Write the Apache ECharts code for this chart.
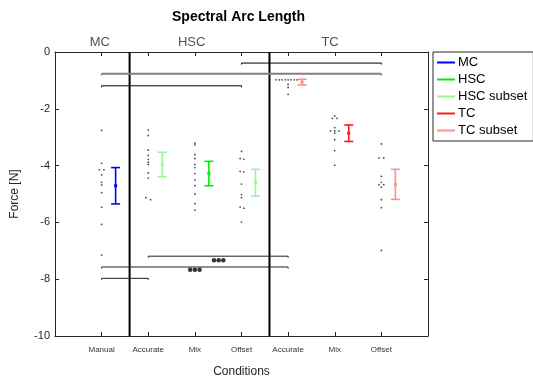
<!DOCTYPE html>
<html><head><meta charset="utf-8">
<script src="https://cdn.jsdelivr.net/npm/echarts@6/dist/echarts.min.js"></script>
<style>html,body{margin:0;padding:0;background:#fff}#c{width:533px;height:383px}</style>
</head><body><div id="c"></div>
<script>
// ---- data ----
const categories = ['Manual','Accurate','Mix','Offset','Accurate','Mix','Offset'];
const groupNames = ['MC','HSC','TC'];
const groupPos = [0.96, 2.93, 5.9];
const separators = [1.6, 4.6];

// individual participant values [x (with jitter), value]
const dotsMC = [[1,-2.76],[1,-3.92],[0.95,-4.15],[1.05,-4.15],[1,-4.33],[1,-4.59],[1,-4.68],[1,-4.95],[1,-5.47],[1,-6.07],[1,-7.15]];
const dotsHSCsubAcc = [[2,-2.75],[2,-2.94],[2,-3.45],[2,-3.64],[2,-3.78],[2,-3.88],[2,-3.96],[2,-4.26],[2,-4.44],[1.95,-5.13],[2.05,-5.2]];
const dotsHSCMix = [[3,-3.21],[3,-3.27],[3,-3.61],[3,-3.75],[3,-3.96],[3,-4.07],[3,-4.28],[3,-4.5],[3,-4.71],[3,-5.0],[3,-5.34],[3,-5.57]];
const dotsHSCsubOff = [[4,-3.5],[3.97,-3.75],[4.05,-3.78],[3.97,-4.2],[4.05,-4.22],[4,-4.65],[4,-5.02],[4,-5.13],[3.97,-5.46],[4.05,-5.5],[4,-5.99]];
const dotsTCsubAcc = [[4.74,-0.98],[4.81,-0.98],[4.87,-0.98],[4.94,-0.98],[5,-0.98],[5.06,-0.98],[5.13,-0.98],[5.19,-0.98],[5,-1.14],[5,-1.25],[5,-1.49]];
const dotsTCMix = [[6,-2.25],[5.95,-2.34],[6.05,-2.34],[6,-2.66],[5.91,-2.78],[6,-2.78],[6.09,-2.78],[6,-2.86],[6,-3.09],[6,-3.47],[6,-3.99]];
const dotsTCsubOff = [[7,-3.24],[6.95,-3.73],[7.05,-3.73],[7,-4.38],[7,-4.59],[6.95,-4.67],[7.05,-4.67],[7,-4.76],[7,-5.2],[7,-5.48],[7,-6.99]];

// error bars [x, mean, half-width]
const errMC = [[1.3,-4.71,0.64]];
const errHSC = [[3.3,-4.28,0.43]];
const errHSCsub = [[2.3,-3.96,0.43],[4.3,-4.6,0.47]];
const errTC = [[6.3,-2.86,0.29]];
const errTCsub = [[5.3,-1.06,0.1],[7.3,-4.66,0.53]];

// significance brackets [x1, x2, y]
const bracketsBlack = [[4,7,-0.39],[1,4,-1.19]];
const bracketsGray = [[1,7,-0.77]];
const bracketsBottom = [[2,5,-7.19],[1,5,-7.57],[1,2,-7.97]];
const stars = [[2.9,-7.67],[3,-7.67],[3.1,-7.67],[3.41,-7.33],[3.51,-7.33],[3.61,-7.33]];

// ---- chart ----
const allDots = [].concat(dotsMC,dotsHSCsubAcc,dotsHSCMix,dotsHSCsubOff,dotsTCsubAcc,dotsTCMix,dotsTCsubOff);

function errSeries(name, data, color){
  return {
    name, type:'custom', data, z:5, itemStyle:{color},
    renderItem(params, api){
      const x=api.value(0), m=api.value(1), e=api.value(2);
      const top=api.coord([x,m+e]), bot=api.coord([x,m-e]), c=api.coord([x,m]);
      const st={stroke:color,lineWidth:1.6};
      return {type:'group',children:[
        {type:'line',shape:{x1:top[0],y1:top[1],x2:bot[0],y2:bot[1]},style:st},
        {type:'line',shape:{x1:top[0]-4.5,y1:top[1],x2:top[0]+4.5,y2:top[1]},style:st},
        {type:'line',shape:{x1:bot[0]-4.5,y1:bot[1],x2:bot[0]+4.5,y2:bot[1]},style:st},
        {type:'rect',shape:{x:c[0]-1.5,y:c[1]-1.5,width:3,height:3},style:{fill:color}}
      ]};
    }
  };
}
function bracketSeries(data, color, width){
  return {
    type:'custom', data, z:4, silent:true,
    renderItem(params, api){
      const a=api.coord([api.value(0),api.value(2)]), b=api.coord([api.value(1),api.value(2)]);
      const st={stroke:color,lineWidth:width};
      return {type:'group',children:[
        {type:'line',shape:{x1:a[0],y1:a[1],x2:b[0],y2:b[1]},style:st},
        {type:'line',shape:{x1:a[0],y1:a[1],x2:a[0],y2:a[1]+1.5},style:st},
        {type:'line',shape:{x1:b[0],y1:b[1],x2:b[0],y2:b[1]+1.5},style:st}
      ]};
    }
  };
}

const axisColor = '#262626';
const font = 'Liberation Sans, Arial, sans-serif';
const chart = echarts.init(document.getElementById('c'));
chart.setOption({
  animation:false,
  title:{text:'Spectral Arc Length', left:167, top:5,
    textStyle:{fontFamily:font, fontSize:14, fontWeight:'bold', color:'#000'}},
  legend:{
    data:['MC','HSC','HSC subset','TC','TC subset'],
    orient:'vertical', left:433, top:52, padding:[4,6,4,4],
    borderColor:axisColor, borderWidth:1, backgroundColor:'#fff',
    itemWidth:18, itemHeight:2, itemGap:4, icon:'rect',
    textStyle:{fontFamily:font, fontSize:13, color:'#000', padding:[0,0,0,-2]}
  },
  grid:{left:55, top:52, width:373, height:289},
  xAxis:[
    {type:'value', min:0, max:8, interval:1, position:'bottom',
     name:'Conditions', nameLocation:'middle', nameGap:30,
     nameTextStyle:{fontFamily:font, fontSize:12, color:axisColor},
     axisLine:{onZero:false, lineStyle:{color:axisColor}},
     axisTick:{inside:true, length:4, lineStyle:{color:axisColor}},
     axisLabel:{fontFamily:font, fontSize:8, color:'#333', margin:10,
       formatter:v=>categories[v-1]||''},
     splitLine:{show:false}},
    {type:'value', min:0, max:8, interval:1, position:'top',
     axisLine:{onZero:false, lineStyle:{color:axisColor}},
     axisTick:{inside:true, length:4, lineStyle:{color:axisColor}},
     axisLabel:{show:false}, splitLine:{show:false}}
  ],
  yAxis:[
    {type:'value', min:-10, max:0, interval:2, position:'left',
     name:'Force [N]', nameLocation:'middle', nameGap:34, nameRotate:90,
     nameTextStyle:{fontFamily:font, fontSize:12, color:axisColor},
     axisLine:{show:true, onZero:false, lineStyle:{color:axisColor}},
     axisTick:{show:true, inside:true, length:4, lineStyle:{color:axisColor}},
     axisLabel:{fontFamily:font, fontSize:11, color:axisColor, margin:5},
     splitLine:{show:false}},
    {type:'value', min:-10, max:0, interval:2, position:'right',
     axisLine:{show:true, onZero:false, lineStyle:{color:axisColor}},
     axisTick:{show:true, inside:true, length:4, lineStyle:{color:axisColor}},
     axisLabel:{show:false}, splitLine:{show:false}}
  ],
  series:[
    {type:'custom', data:separators.map(s=>[s]), z:3, silent:true,
     renderItem(params, api){
       const a=api.coord([api.value(0),0]), b=api.coord([api.value(0),-10]);
       return {type:'line',shape:{x1:a[0],y1:a[1],x2:b[0],y2:b[1]},style:{stroke:'#000',lineWidth:2}};
     }},
    {type:'scatter', data:groupNames.map((n,i)=>({name:n,value:[groupPos[i],0]})), symbolSize:0, silent:true,
     label:{show:true, position:'top', distance:3, formatter:'{b}',
       fontFamily:font, fontSize:13, color:axisColor}},
    {type:'scatter', data:allDots, symbolSize:1.8, itemStyle:{color:'#222'}, silent:true, z:2},
    bracketSeries(bracketsBlack,'#000',1),
    bracketSeries(bracketsGray,'#808080',2),
    bracketSeries(bracketsBottom,'#222',1),
    {type:'scatter', data:stars, symbolSize:4.5, itemStyle:{color:'#000'}, silent:true, z:5},
    errSeries('MC', errMC, '#0000ff'),
    errSeries('HSC', errHSC, '#00ee00'),
    errSeries('HSC subset', errHSCsub, '#99f599'),
    errSeries('TC', errTC, '#ff1a1a'),
    errSeries('TC subset', errTCsub, '#ff9090')
  ]
});
</script></body></html>
